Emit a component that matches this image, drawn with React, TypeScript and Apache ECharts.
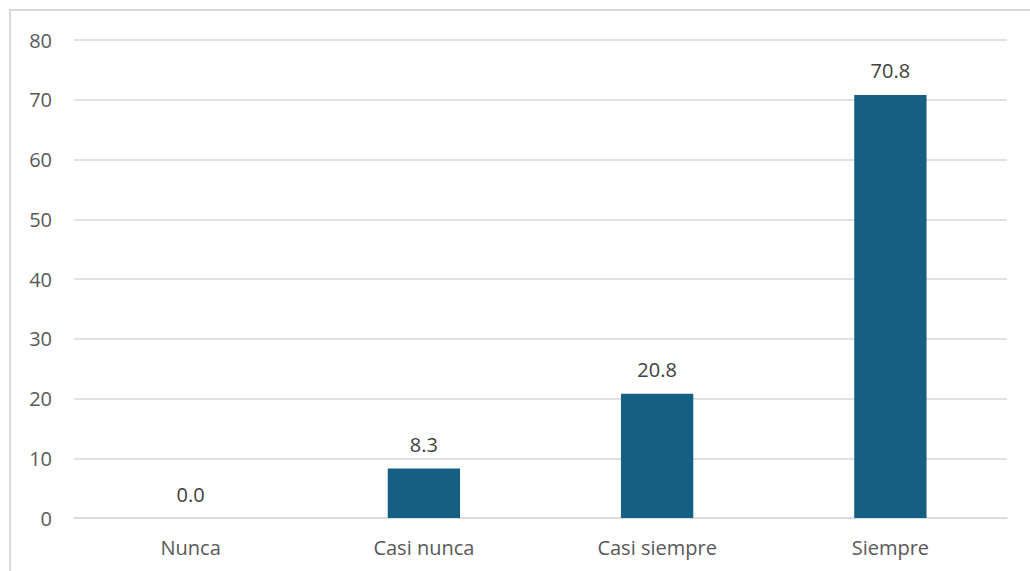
import React, { useEffect, useRef } from "react";
import * as echarts from "echarts";

const categories = ["Nunca", "Casi nunca", "Casi siempre", "Siempre"];
const values = [0.0, 8.3, 20.8, 70.8];
const yTicks = [0, 10, 20, 30, 40, 50, 60, 70, 80];

export default function App() {
  const ref = useRef<HTMLDivElement>(null);
  useEffect(() => {
    if (!ref.current) return;
    const chart = echarts.init(ref.current, null, { renderer: "svg" });
    const font = "'Open Sans', 'Noto Sans', sans-serif";
    chart.setOption({
      animation: false,
      backgroundColor: "#ffffff",
      graphic: [
        {
          type: "rect",
          shape: { x: 10, y: 10, width: 1040, height: 600 },
          style: { fill: "none", stroke: "#d9d9d9", lineWidth: 2 },
          silent: true,
        },
      ],
      grid: { left: 74, right: 23, top: 40, bottom: 53, containLabel: false },
      xAxis: {
        type: "category",
        data: categories,
        axisLine: { show: true, lineStyle: { color: "#d9d9d9", width: 1.5 } },
        axisTick: { show: false },
        axisLabel: { color: "#595959", fontSize: 20, fontFamily: font, margin: 19 },
      },
      yAxis: {
        type: "value",
        min: yTicks[0],
        max: yTicks[yTicks.length - 1],
        interval: 10,
        axisLine: { show: false },
        axisTick: { show: false },
        splitLine: { lineStyle: { color: "#d9d9d9", width: 1.5 } },
        axisLabel: { color: "#595959", fontSize: 20, fontFamily: font, margin: 22 },
      },
      series: [
        {
          type: "bar",
          data: values,
          barWidth: "31%",
          itemStyle: { color: "#156082" },
          label: {
            show: true,
            position: "top",
            distance: 14,
            color: "#404040",
            fontSize: 20,
            fontFamily: font,
            formatter: (p: any) => Number(p.value).toFixed(1),
          },
        },
      ],
    });
    return () => chart.dispose();
  }, []);
  return (
    <div
      ref={ref}
      style={{ position: "fixed", left: 0, top: 0, width: 1030, height: 571 }}
    />
  );
}
